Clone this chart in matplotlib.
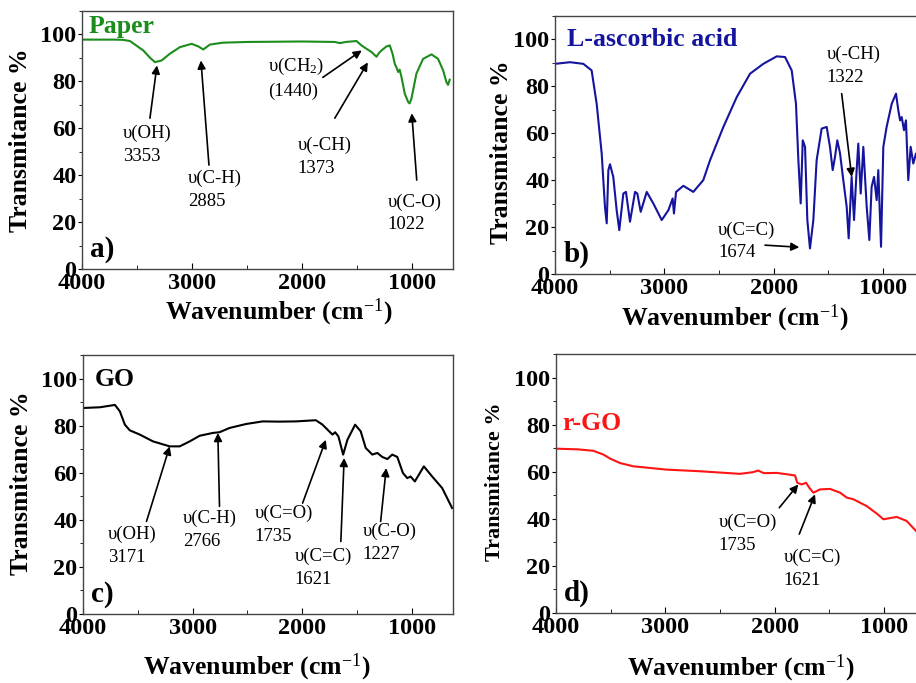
import matplotlib
matplotlib.use("Agg")
import matplotlib.pyplot as plt
from matplotlib.ticker import MultipleLocator

plt.rcParams['font.family'] = ['Liberation Serif', 'DejaVu Serif']
plt.rcParams['mathtext.fontset'] = 'custom'
plt.rcParams['mathtext.rm'] = 'Liberation Serif'
plt.rcParams['mathtext.it'] = 'Liberation Serif:italic'
plt.rcParams['mathtext.bf'] = 'Liberation Serif:bold'

# ---- data ----
# a) Paper
wn_paper = [4000, 3700, 3627, 3564, 3443, 3380, 3336, 3276, 3200, 3109, 3003, 2942, 2897, 2836,
            2715, 2500, 2000, 1700, 1654, 1600, 1503, 1457, 1412, 1366, 1351, 1321, 1300, 1275,
            1230, 1200, 1175, 1155, 1140, 1124, 1110, 1094, 1064, 1033, 1020, 1003, 958, 897,
            821, 761, 715, 685, 670, 655]
t_paper = [97.8, 97.8, 97.7, 97.2, 93.2, 90.0, 88.2, 88.9, 91.8, 94.6, 96.0, 94.9, 93.6, 95.7,
           96.5, 96.8, 97.0, 96.8, 96.3, 96.8, 97.2, 95.3, 93.9, 92.5, 91.8, 90.5, 92.0, 93.2,
           94.9, 95.3, 91.8, 87.5, 86.0, 84.0, 85.0, 81.9, 74.8, 71.2, 70.6, 72.6, 83.3, 89.6,
           91.5, 89.6, 84.7, 79.7, 78.5, 80.7]

# b) L-ascorbic acid
wn_asc = [4000, 3863, 3741, 3665, 3619, 3573, 3543, 3527, 3512, 3497, 3467, 3436, 3412, 3375,
          3351, 3314, 3268, 3247, 3216, 3161, 3101, 3024, 2963, 2924, 2912, 2893, 2826, 2735,
          2644, 2582, 2460, 2338, 2216, 2095, 1972, 1896, 1835, 1796, 1774, 1753, 1734, 1713,
          1692, 1668, 1637, 1607, 1561, 1515, 1485, 1460, 1439, 1418, 1393, 1363, 1332, 1314,
          1287, 1265, 1241, 1226, 1204, 1180, 1149, 1125, 1104, 1082, 1058, 1043, 1018, 997,
          967, 920, 881, 860, 844, 829, 808, 790, 769, 747, 723, 698, 670, 650]
t_asc = [89.6, 90.3, 89.6, 86.8, 72.6, 51.4, 28.6, 21.6, 44.3, 46.8, 41.4, 27.2, 18.7, 34.3,
         35.0, 22.3, 35.0, 34.3, 26.5, 35.0, 30.1, 23.0, 27.2, 32.2, 25.8, 35.0, 37.6, 35.0,
         40.0, 48.5, 62.7, 75.4, 85.4, 89.6, 92.8, 92.5, 86.8, 72.6, 48.5, 30.1, 57.0, 54.2,
         23.0, 10.9, 23.0, 48.5, 62.0, 62.7, 54.2, 44.3, 49.9, 57.0, 51.4, 40.0, 28.6, 15.2,
         41.4, 23.0, 44.3, 55.6, 34.3, 54.2, 28.6, 14.5, 37.2, 41.4, 31.5, 44.3, 11.6, 54.2,
         62.7, 72.6, 76.9, 69.8, 65.5, 66.9, 61.3, 65.5, 40.0, 54.2, 47.1, 51.4, 46.0, 48.0]

# c) GO
wn_go = [4000, 3845, 3709, 3664, 3618, 3573, 3482, 3361, 3209, 3118, 3027, 2936, 2815, 2755,
         2664, 2512, 2361, 2209, 2057, 1876, 1815, 1755, 1724, 1700, 1670, 1627, 1588, 1518,
         1467, 1421, 1361, 1315, 1270, 1224, 1179, 1133, 1082, 1042, 1012, 973, 891, 815,
         724, 633]
t_go = [87.5, 87.8, 88.8, 86.1, 80.4, 78.0, 76.2, 73.3, 71.2, 71.2, 73.3, 75.7, 76.9, 77.2,
        79.0, 80.7, 81.8, 81.7, 81.8, 82.3, 80.4, 77.6, 76.2, 77.2, 75.4, 67.7, 74.0, 80.4,
        77.6, 70.5, 67.7, 68.4, 66.7, 65.8, 67.7, 66.7, 59.9, 57.7, 58.4, 56.3, 62.7, 58.4,
        53.5, 45.0]

# d) r-GO
wn_rgo = [4000, 3800, 3659, 3567, 3506, 3415, 3293, 2988, 2683, 2317, 2200, 2150, 2100, 1982,
          1900, 1814, 1793, 1753, 1713, 1680, 1646, 1585, 1494, 1402, 1340, 1280, 1158, 1060,
          1006, 884, 793, 708, 650]
t_rgo = [69.8, 69.5, 68.9, 67.3, 65.6, 63.7, 62.3, 60.9, 60.2, 59.1, 59.8, 60.5, 59.4, 59.5,
         59.0, 58.4, 55.3, 54.6, 55.3, 53.0, 51.1, 52.5, 52.7, 51.1, 49.0, 48.3, 45.4, 42.0,
         39.8, 40.8, 39.1, 34.9, 32.0]

# ---- figure ----
W, H = 916, 683
fig = plt.figure(figsize=(W / 100, H / 100), dpi=100)

def px_axes(left, top, right, bottom):
    return fig.add_axes([left / W, 1 - bottom / H, (right - left) / W, (bottom - top) / H])

ax_a = px_axes(82, 11, 453, 269)
ax_b = px_axes(555, 16, 924, 274)
ax_c = px_axes(83, 355, 453, 614)
ax_d = px_axes(556, 354, 925, 613)

panels = [
    (ax_a, wn_paper, t_paper, '#1c8c1c', 'Paper', (0.019, 0.914), 'a)', (-0.135, 0.50), (0.53, -0.108), 18.5),
    (ax_b, wn_asc, t_asc, '#14149e', 'L-ascorbic acid', (0.033, 0.884), 'b)', (-0.114, 0.473), (0.488, -0.112), 18.5),
    (ax_c, wn_go, t_go, 'black', 'GO', (0.032, 0.880), 'c)', (-0.135, 0.506), (0.47, -0.145), 18.5),
    (ax_d, wn_rgo, t_rgo, '#ff1414', 'r-GO', (0.016, 0.708), 'd)', (-0.138, 0.508), (0.50, -0.152), 16),
]

for ax, x, y, col, name, npos, tag, ylpos, xlpos, ylsize in panels:
    ax.plot(x, y, color=col, lw=1.5)
    ax.set_xlim(4000, 625)
    ax.set_ylim(0, 110)
    ax.xaxis.set_major_locator(MultipleLocator(1000))
    ax.xaxis.set_minor_locator(MultipleLocator(500))
    ax.yaxis.set_major_locator(MultipleLocator(20))
    ax.yaxis.set_minor_locator(MultipleLocator(10))
    ax.tick_params(axis='x', which='both', direction='in', pad=3, labelsize=17.5, top=False)
    ax.tick_params(axis='x', which='major', length=4)
    ax.tick_params(axis='x', which='minor', length=3)
    ax.tick_params(axis='y', which='both', direction='out', pad=1, labelsize=17.5, right=False)
    ax.tick_params(axis='y', which='major', length=3)
    ax.tick_params(axis='y', which='minor', length=2)
    for lab in ax.get_xticklabels() + ax.get_yticklabels():
        lab.set_fontweight('bold')
    for sp in ax.spines.values():
        sp.set_color('#444444')
        sp.set_linewidth(1.0)
    ax.set_ylabel('Transmitance %', fontsize=ylsize, fontweight='bold')
    ax.yaxis.set_label_coords(*ylpos)
    ax.set_xlabel('Wavenumber (cm$^{-1}$)', fontsize=18.5, fontweight='bold')
    ax.xaxis.set_label_coords(*xlpos)
    ax.text(npos[0], npos[1], name, transform=ax.transAxes, color=col,
            fontsize=18.5, fontweight='bold', va='baseline', ha='left')
    ax.text(0.022, 0.025, tag, transform=ax.transAxes, fontsize=21,
            fontweight='bold', va='bottom', ha='left')

arrow = dict(arrowstyle='-|>', color='black', lw=1.2, mutation_scale=12, shrinkA=0, shrinkB=0)

def note(ax, label, txt_xy, tail, head):
    ax.text(txt_xy[0], txt_xy[1], label, fontsize=13.5, va='top', ha='left', linespacing=1.45)
    ax.annotate('', xy=head, xytext=tail, arrowprops=arrow)

note(ax_a, 'υ(OH)\n3353', (3627, 61.5), (3382, 64.3), (3318, 86.8))
note(ax_a, 'υ(C-H)\n2885', (3036, 42.3), (2845, 44.3), (2918, 88.9))
note(ax_a, 'υ(CH$_2$)\n(1440)', (2309, 91.0), (1809, 81.7), (1455, 93.2))
note(ax_a, 'υ(-CH)\n1373', (2036, 56.5), (1700, 64.3), (1400, 88.1))
note(ax_a, 'υ(C-O)\n1022', (1218, 32.3), (955, 37.9), (1000, 66.4))

note(ax_b, 'υ(C=C)\n1674', (2509, 22.5), (2079, 12.3), (1765, 11.4))
note(ax_b, 'υ(-CH)\n1322', (1515, 97.4), (1378, 76.9), (1286, 41.4))

note(ax_c, 'υ(OH)\n3171', (3773, 37.4), (3421, 39.3), (3209, 71.2))
note(ax_c, 'υ(C-H)\n2766', (3088, 44.2), (2755, 45.7), (2770, 76.9))
note(ax_c, 'υ(C=O)\n1735', (2436, 46.3), (1997, 47.1), (1785, 74.0))
note(ax_c, 'υ(C=C)\n1621', (2073, 28.0), (1648, 30.8), (1618, 66.3))
note(ax_c, 'υ(C-O)\n1227', (1452, 38.7), (1285, 39.3), (1234, 62.0))

note(ax_d, 'υ(C=O)\n1735', (2515, 42.0), (1958, 44.7), (1784, 54.6))
note(ax_d, 'υ(C=C)\n1621', (1921, 27.3), (1775, 33.5), (1631, 50.4))

fig.savefig('out.png', dpi=100)
